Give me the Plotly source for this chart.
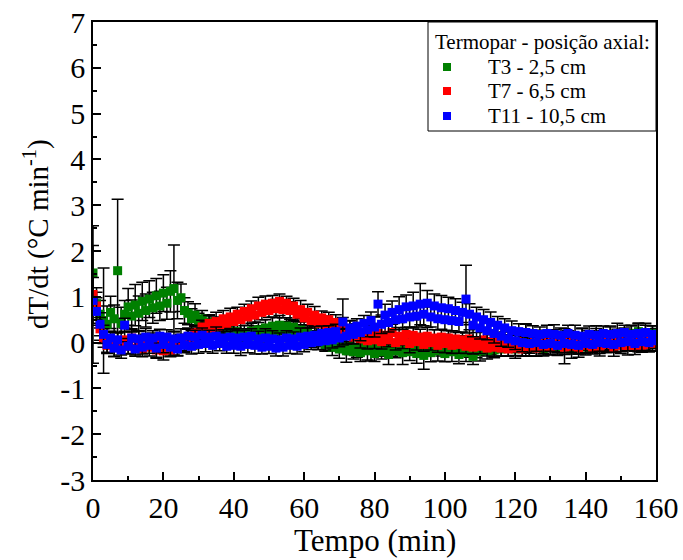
import plotly.graph_objects as go

time_min = list(range(0, 161))

t3_values = [
    1.52, 0.85, 0.62, 0.48, 0.40, 0.66, 0.52, 1.57, 0.42, 0.62,
    0.78, 0.58, 0.82, 0.64, 0.90, 0.70, 0.95, 0.76, 1.02, 0.80,
    1.08, 0.86, 1.12, 1.18, 0.92, 0.98, 0.70, 0.64, 0.52, 0.60,
    0.44, 0.52, 0.36, 0.45, 0.30, 0.38, 0.24, 0.32, 0.18, 0.26,
    0.14, 0.24, 0.12, 0.22, 0.10, 0.25, 0.14, 0.28, 0.18, 0.32,
    0.24, 0.36, 0.26, 0.38, 0.28, 0.36, 0.24, 0.34, 0.20, 0.28,
    0.14, 0.22, 0.08, 0.16, 0.02, 0.10, -0.04, 0.04, -0.10, -0.02,
    -0.14, -0.04, -0.18, -0.08, -0.20, -0.10, -0.22, -0.06, -0.18, -0.12,
    -0.24, -0.08, -0.20, -0.10, -0.26, -0.12, -0.18, -0.06, -0.22, -0.10,
    -0.20, -0.08, -0.24, -0.14, -0.28, -0.12, -0.22, -0.08, -0.18, -0.10,
    -0.24, -0.12, -0.20, -0.08, -0.26, -0.14, -0.22, -0.10, -0.30, -0.16,
    -0.20, -0.06, -0.18, -0.04, -0.16, -0.02, -0.14, 0.02, -0.12, 0.00,
    -0.14, 0.04, -0.10, 0.06, -0.12, 0.02, -0.08, 0.08, -0.14, 0.04,
    -0.10, 0.06, -0.12, 0.02, -0.08, 0.08, -0.14, 0.04, -0.06, 0.10,
    -0.10, 0.06, -0.04, 0.12, -0.08, 0.08, -0.02, 0.14, -0.04, 0.10,
    0.02, 0.16, 0.04, 0.20, 0.08, 0.24, 0.10, 0.22, 0.06, 0.20,
    0.12,
]
t3_errors = [
    0.60, 0.35, 0.30, 1.15, 0.40, 0.35, 0.30, 1.56, 0.35, 0.30,
    0.40, 0.35, 0.45, 0.38, 0.42, 0.36, 0.40, 0.34, 0.38, 0.32,
    0.40, 0.35, 0.45, 0.95, 0.40, 0.30, 0.28, 0.25, 0.22, 0.25,
    0.20, 0.18, 0.22, 0.16, 0.20, 0.18, 0.15, 0.22, 0.17, 0.19,
    0.16, 0.21, 0.18, 0.15, 0.20, 0.17, 0.22, 0.16, 0.19, 0.18,
    0.15, 0.20, 0.17, 0.21, 0.16, 0.18, 0.22, 0.15, 0.19, 0.17,
    0.20, 0.16, 0.18, 0.22, 0.17, 0.19, 0.15, 0.21, 0.18, 0.16,
    0.20, 0.17, 0.25, 0.18, 0.16, 0.22, 0.19, 0.15, 0.20, 0.28,
    0.17, 0.21, 0.16, 0.19, 0.22, 0.18, 0.15, 0.20, 0.26, 0.17,
    0.19, 0.16, 0.21, 0.18, 0.30, 0.17, 0.20, 0.16, 0.22, 0.19,
    0.18, 0.15, 0.21, 0.17, 0.20, 0.16, 0.19, 0.22, 0.18, 0.17,
    0.20, 0.16, 0.18, 0.22, 0.17, 0.19, 0.15, 0.21, 0.18, 0.16,
    0.20, 0.17, 0.19, 0.35, 0.18, 0.16, 0.21, 0.19, 0.15, 0.20,
    0.17, 0.22, 0.16, 0.19, 0.38, 0.18, 0.20, 0.16, 0.19, 0.22,
    0.17, 0.20, 0.16, 0.19, 0.21, 0.18, 0.16, 0.20, 0.17, 0.19,
    0.22, 0.16, 0.20, 0.18, 0.17, 0.19, 0.16, 0.20, 0.18, 0.17,
    0.19,
]

t7_values = [
    1.05, 0.80, 0.30, 0.10, -0.06, 0.08, -0.10, 0.04, -0.12, 0.06,
    -0.08, 0.10, -0.12, 0.04, -0.14, 0.02, -0.10, 0.06, -0.16, -0.02,
    -0.18, -0.04, -0.16, -0.08, -0.12, 0.00, -0.04, 0.12, 0.06, 0.22,
    0.18, 0.34, 0.26, 0.42, 0.32, 0.46, 0.36, 0.52, 0.40, 0.56,
    0.46, 0.62, 0.50, 0.68, 0.56, 0.74, 0.60, 0.80, 0.66, 0.84,
    0.70, 0.86, 0.74, 0.90, 0.72, 0.86, 0.70, 0.80, 0.62, 0.72,
    0.54, 0.66, 0.48, 0.60, 0.42, 0.54, 0.38, 0.50, 0.32, 0.44,
    0.26, 0.36, 0.18, 0.30, 0.12, 0.24, 0.08, 0.22, 0.04, 0.18,
    0.06, 0.20, 0.02, 0.16, 0.06, 0.22, 0.00, 0.14, 0.04, 0.18,
    -0.02, 0.16, 0.02, 0.12, -0.04, 0.14, 0.00, 0.10, -0.06, 0.12,
    -0.02, 0.10, -0.06, 0.08, -0.04, 0.06, -0.08, 0.08, -0.10, 0.04,
    -0.08, 0.06, -0.12, 0.02, -0.10, 0.04, -0.12, 0.00, -0.14, -0.02,
    -0.12, 0.02, -0.14, -0.04, -0.10, 0.00, -0.12, -0.02, -0.08, 0.02,
    -0.10, 0.00, -0.06, 0.04, -0.10, 0.02, -0.08, 0.04, -0.12, 0.00,
    -0.06, 0.04, -0.10, 0.02, -0.08, 0.06, -0.04, 0.02, -0.10, 0.04,
    -0.06, 0.02, -0.08, 0.04, -0.10, 0.00, -0.06, 0.04, -0.04, 0.02,
    -0.02,
]
t7_errors = [
    1.50, 0.30, 0.25, 0.20, 0.18, 0.16, 0.20, 0.17, 0.15, 0.19,
    0.16, 0.18, 0.15, 0.20, 0.17, 0.16, 0.19, 0.15, 0.18, 0.16,
    0.20, 0.17, 0.15, 0.19, 0.16, 0.18, 0.15, 0.17, 0.20, 0.16,
    0.18, 0.15, 0.19, 0.17, 0.16, 0.20, 0.15, 0.18, 0.16, 0.19,
    0.17, 0.15, 0.20, 0.16, 0.18, 0.17, 0.15, 0.19, 0.16, 0.18,
    0.15, 0.17, 0.20, 0.16, 0.18, 0.15, 0.19, 0.17, 0.16, 0.20,
    0.15, 0.18, 0.16, 0.19, 0.17, 0.15, 0.20, 0.16, 0.18, 0.17,
    0.15, 0.19, 0.16, 0.18, 0.15, 0.17, 0.20, 0.16, 0.18, 0.15,
    0.19, 0.17, 0.16, 0.20, 0.15, 0.18, 0.16, 0.19, 0.17, 0.15,
    0.20, 0.16, 0.18, 0.17, 0.15, 0.19, 0.16, 0.18, 0.15, 0.17,
    0.20, 0.16, 0.18, 0.15, 0.19, 0.17, 0.16, 0.20, 0.15, 0.18,
    0.16, 0.19, 0.17, 0.15, 0.20, 0.16, 0.18, 0.17, 0.15, 0.19,
    0.16, 0.18, 0.15, 0.17, 0.20, 0.16, 0.18, 0.15, 0.19, 0.17,
    0.16, 0.20, 0.15, 0.18, 0.16, 0.19, 0.17, 0.15, 0.20, 0.16,
    0.18, 0.17, 0.15, 0.19, 0.16, 0.18, 0.15, 0.17, 0.20, 0.16,
    0.18, 0.15, 0.19, 0.17, 0.16, 0.20, 0.15, 0.18, 0.16, 0.19,
    0.17,
]

t11_values = [
    0.92, 0.68, 0.40, 0.18, -0.04, 0.10, -0.12, 0.06, -0.16, 0.38,
    -0.08, 0.10, -0.14, 0.08, -0.10, 0.12, -0.06, 0.10, -0.12, 0.14,
    -0.04, 0.12, -0.10, 0.08, -0.14, 0.10, -0.06, 0.14, -0.08, 0.12,
    -0.04, 0.16, -0.02, 0.12, -0.06, 0.14, -0.02, 0.10, -0.08, 0.12,
    -0.06, 0.10, -0.08, 0.12, -0.04, 0.14, -0.06, 0.08, -0.10, 0.10,
    -0.08, 0.08, -0.12, 0.06, -0.10, 0.10, -0.06, 0.08, -0.08, 0.12,
    -0.04, 0.14, 0.00, 0.16, 0.02, 0.20, 0.04, 0.22, 0.06, 0.24,
    0.10, 0.45, 0.14, 0.32, 0.18, 0.36, 0.22, 0.42, 0.28, 0.48,
    0.34, 0.84, 0.40, 0.60, 0.44, 0.66, 0.50, 0.72, 0.52, 0.78,
    0.56, 0.80, 0.58, 0.84, 0.62, 0.86, 0.56, 0.80, 0.52, 0.76,
    0.50, 0.74, 0.48, 0.70, 0.46, 0.66, 0.95, 0.62, 0.38, 0.56,
    0.32, 0.50, 0.26, 0.44, 0.20, 0.38, 0.14, 0.32, 0.08, 0.26,
    0.04, 0.24, 0.00, 0.22, -0.02, 0.20, 0.00, 0.18, -0.04, 0.20,
    -0.02, 0.18, -0.06, 0.16, -0.02, 0.20, -0.04, 0.16, -0.06, 0.14,
    -0.02, 0.18, -0.04, 0.16, 0.00, 0.20, -0.02, 0.18, -0.04, 0.20,
    0.00, 0.22, 0.02, 0.18, -0.02, 0.20, 0.02, 0.22, 0.00, 0.18,
    0.04,
]
t11_errors = [
    0.50, 0.30, 0.25, 0.20, 0.17, 0.15, 0.19, 0.16, 0.18, 0.15,
    0.17, 0.20, 0.16, 0.18, 0.15, 0.19, 0.17, 0.16, 0.20, 0.15,
    0.18, 0.16, 0.19, 0.17, 0.15, 0.20, 0.16, 0.18, 0.17, 0.15,
    0.19, 0.16, 0.18, 0.15, 0.17, 0.20, 0.16, 0.18, 0.15, 0.19,
    0.17, 0.16, 0.20, 0.15, 0.18, 0.16, 0.19, 0.17, 0.15, 0.20,
    0.16, 0.18, 0.17, 0.15, 0.19, 0.16, 0.18, 0.15, 0.17, 0.20,
    0.16, 0.18, 0.15, 0.19, 0.17, 0.16, 0.20, 0.15, 0.18, 0.16,
    0.19, 0.50, 0.17, 0.15, 0.20, 0.16, 0.18, 0.17, 0.15, 0.19,
    0.22, 0.27, 0.20, 0.24, 0.21, 0.25, 0.22, 0.28, 0.23, 0.26,
    0.22, 0.30, 0.24, 0.45, 0.25, 0.28, 0.22, 0.26, 0.24, 0.27,
    0.23, 0.25, 0.22, 0.26, 0.24, 0.22, 0.74, 0.23, 0.25, 0.21,
    0.24, 0.22, 0.20, 0.23, 0.21, 0.19, 0.22, 0.20, 0.18, 0.21,
    0.19, 0.17, 0.20, 0.18, 0.21, 0.17, 0.19, 0.16, 0.20, 0.18,
    0.17, 0.21, 0.19, 0.16, 0.20, 0.18, 0.17, 0.22, 0.19, 0.16,
    0.20, 0.18, 0.17, 0.21, 0.19, 0.16, 0.20, 0.18, 0.17, 0.22,
    0.19, 0.16, 0.20, 0.18, 0.17, 0.21, 0.19, 0.16, 0.20, 0.18,
    0.17,
]

series_names = ["T3 - 2,5 cm", "T7 - 6,5 cm", "T11 - 10,5 cm"]
series_colors = ["#008000", "#ff0000", "#0000ff"]
series_values = [t3_values, t7_values, t11_values]
series_errors = [t3_errors, t7_errors, t11_errors]

x_tick_values = [0, 20, 40, 60, 80, 100, 120, 140, 160]
x_tick_labels = ["0", "20", "40", "60", "80", "100", "120", "140", "160"]
y_tick_values = [-3, -2, -1, 0, 1, 2, 3, 4, 5, 6, 7]
y_tick_labels = ["-3", "-2", "-1", "0", "1", "2", "3", "4", "5", "6", "7"]

legend_title = "Termopar - posição axial:"
x_title = "Tempo (min)"
y_title = "dT/dt (°C min<sup>-1</sup>)"

FONT = "Liberation Serif"
W, H = 683, 560
ML, MR, MT, MB = 93, 27, 22, 80
PW, PH = W - ML - MR, H - MT - MB


def px_x(px):
    return (px - ML) / PW


def px_y(py):
    return (H - MB - py) / PH


fig = go.Figure()
for name, color, vals, errs in zip(series_names, series_colors, series_values, series_errors):
    fig.add_trace(go.Scatter(
        x=time_min, y=vals, name=name, mode="markers",
        marker=dict(symbol="square", size=9, color=color, line=dict(width=0)),
        error_y=dict(type="data", array=errs, visible=True, color="black",
                     thickness=1.5, width=6),
        showlegend=False,
    ))

axis_common = dict(
    showline=True, linecolor="black", linewidth=1.5, mirror=True,
    ticks="inside", ticklen=8, tickwidth=1.5, tickcolor="black",
    showgrid=False, zeroline=False, automargin=False,
    tickfont=dict(family=FONT, size=30, color="black"),
)

# custom legend box
shapes = [dict(type="rect", xref="paper", yref="paper",
               x0=px_x(428), x1=1.0, y0=px_y(131), y1=1.0,
               line=dict(color="black", width=1), fillcolor="white", layer="above")]
annotations = [
    dict(text=legend_title, xref="paper", yref="paper", x=px_x(433), y=px_y(42),
         xanchor="left", yanchor="middle", showarrow=False,
         font=dict(family=FONT, size=21, color="black")),
    dict(text=x_title, xref="paper", yref="paper", x=0.5, y=px_y(540),
         xanchor="center", yanchor="middle", showarrow=False,
         font=dict(family=FONT, size=31, color="black")),
    dict(text=y_title, xref="paper", yref="paper", x=px_x(36), y=px_y(234),
         xanchor="center", yanchor="middle", showarrow=False, textangle=-90,
         font=dict(family=FONT, size=29, color="black")),
]
item_rows = [67, 91, 116]
for name, color, row in zip(series_names, series_colors, item_rows):
    shapes.append(dict(type="rect", xref="paper", yref="paper",
                       xsizemode="pixel", ysizemode="pixel",
                       xanchor=px_x(447), yanchor=px_y(row),
                       x0=-4, x1=4, y0=-4, y1=4,
                       line=dict(width=0), fillcolor=color, layer="above"))
    annotations.append(dict(text=name, xref="paper", yref="paper", x=px_x(486), y=px_y(row),
                            xanchor="left", yanchor="middle", showarrow=False,
                            font=dict(family=FONT, size=21, color="black")))

fig.update_layout(
    width=W, height=H,
    margin=dict(l=ML, r=MR, t=MT, b=MB),
    paper_bgcolor="white", plot_bgcolor="white",
    font=dict(family=FONT, color="black"),
    showlegend=False,
    shapes=shapes,
    annotations=annotations,
    xaxis=dict(
        range=[0, 160], tickmode="array", tickvals=x_tick_values, ticktext=x_tick_labels,
        minor=dict(ticks="inside", ticklen=4, tickcolor="black", dtick=10, tick0=0),
        **axis_common,
    ),
    yaxis=dict(
        range=[-3, 7], tickmode="array", tickvals=y_tick_values, ticktext=y_tick_labels,
        minor=dict(ticks="inside", ticklen=4, tickcolor="black", dtick=0.5, tick0=-3),
        **axis_common,
    ),
)

fig.write_html("out.html")
